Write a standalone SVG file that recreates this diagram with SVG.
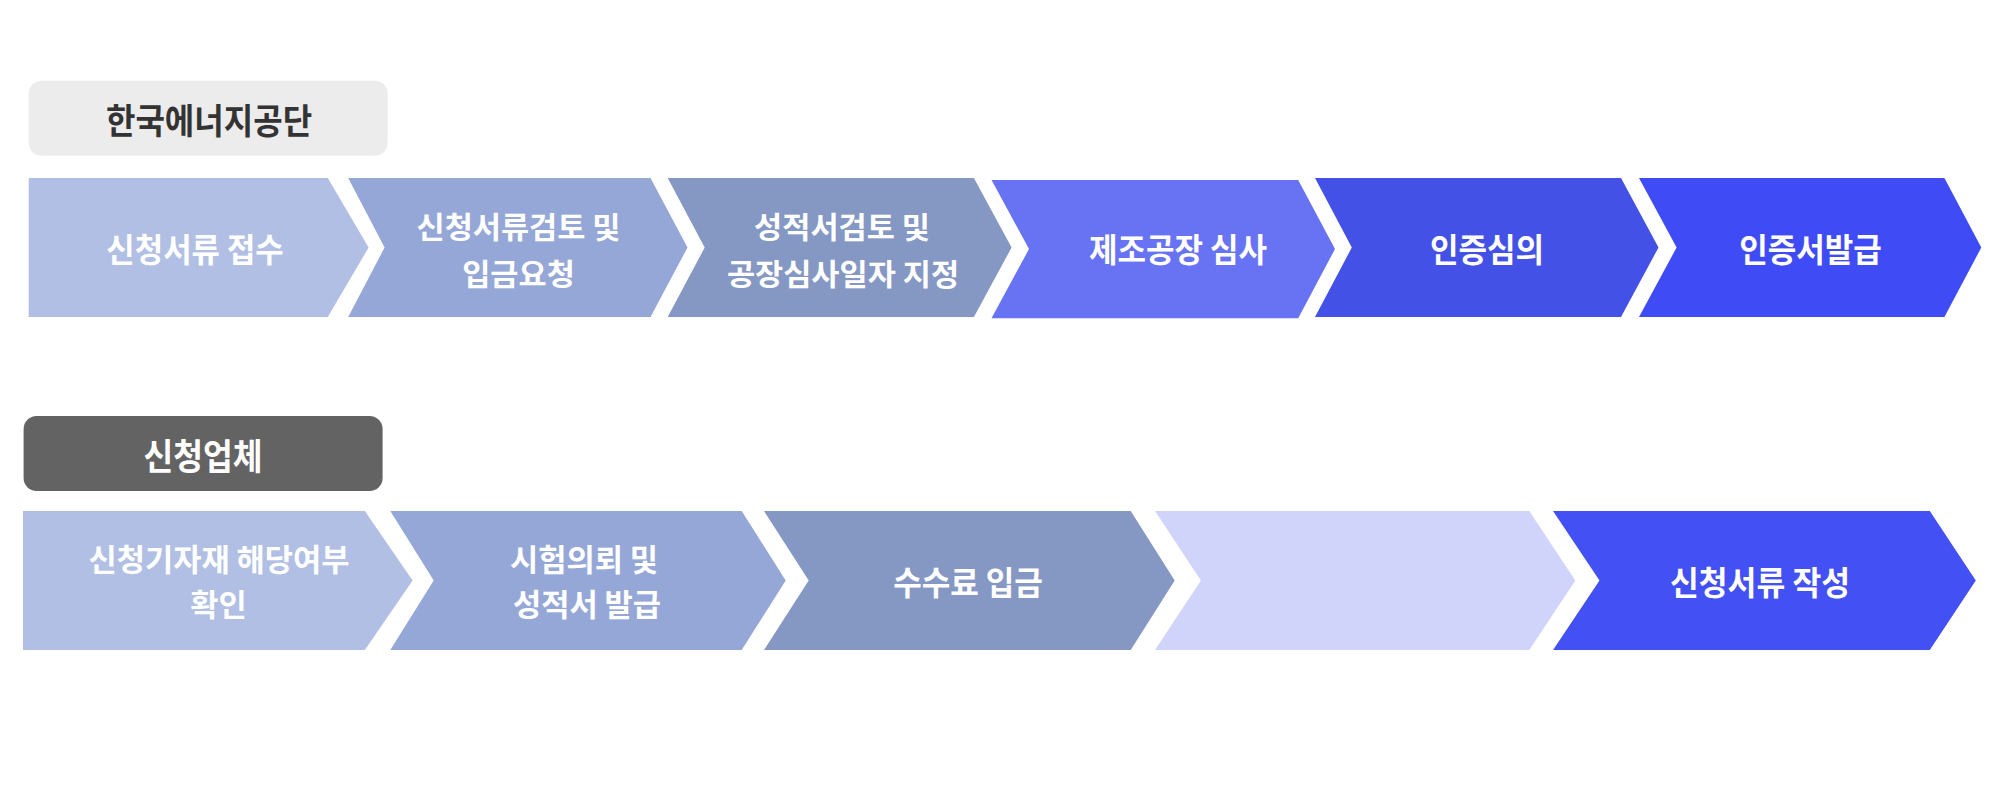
<svg xmlns="http://www.w3.org/2000/svg" width="2000" height="800" viewBox="0 0 2000 800">
<style>
text{font-family:"Noto Sans CJK KR","Noto Sans",sans-serif;font-weight:700;text-anchor:middle;dominant-baseline:central}
.w{fill:#ffffff}
.d{fill:#333333}
.c1{fill:#b0bfe3}.c2{fill:#95a7d6}.c3{fill:#8597c3}.c4{fill:#6873f4}.c5{fill:#4351e6}.c6{fill:#3f4cf5}.c7{fill:#d1d4fa}.c8{fill:#4350f3}
</style>
<rect width="2000" height="800" fill="#ffffff"/>
<g id="label-kea">
<rect x="28.7" y="80.7" width="359" height="75" rx="13" fill="#ececec"/>
<text class="d" font-size="35" transform="translate(209,119) scale(0.915,1)">한국에너지공단</text>
</g>
<g id="label-applicant">
<rect x="23.6" y="416" width="359" height="75" rx="13" fill="#636363"/>
<text class="w" font-size="36" transform="translate(203,454) scale(0.9,1)">신청업체</text>
</g>
<g id="top1">
<path class="c1" d="M28.7,178 L327.8,178 L368.6,247.5 L327.8,317 L28.7,317 Z"/>
<text class="w" font-size="33" transform="translate(195,248) scale(0.935,1)">신청서류 접수</text>
</g>
<g id="top2">
<path class="c2" d="M348.2,178 L650.5,178 L687.5,247.5 L650.5,317 L348.2,317 L384.6,247.5 Z"/>
<text class="w" font-size="30" transform="translate(518.5,225) scale(1.02,1)">신청서류검토 및</text>
<text class="w" font-size="30" transform="translate(518.5,272) scale(1.02,1)">입금요청</text>
</g>
<g id="top3">
<path class="c3" d="M667.7,178 L973.9,178 L1011.6,247.5 L973.9,317 L667.7,317 L704.7,247.5 Z"/>
<text class="w" font-size="30" transform="translate(842,225) scale(1.02,1)">성적서검토 및</text>
<text class="w" font-size="30" transform="translate(843,272) scale(1.02,1)">공장심사일자 지정</text>
</g>
<g id="top4">
<path class="c4" d="M991.5,180 L1298.2,180 L1335,249 L1298.2,318.3 L991.5,318.3 L1029,249 Z"/>
<text class="w" font-size="33" transform="translate(1178,248) scale(0.94,1)">제조공장 심사</text>
</g>
<g id="top5">
<path class="c5" d="M1315,178 L1621,178 L1658.5,247.5 L1621,317 L1315,317 L1351.8,247.5 Z"/>
<text class="w" font-size="33" transform="translate(1487,248) scale(0.94,1)">인증심의</text>
</g>
<g id="top6">
<path class="c6" d="M1639,178 L1944.4,178 L1981.3,247.5 L1944.4,317 L1639,317 L1676.6,247.5 Z"/>
<text class="w" font-size="33" transform="translate(1810.5,248) scale(0.94,1)">인증서발급</text>
</g>
<g id="bot1">
<path class="c1" d="M23,511 L364.8,511 L412.6,580.5 L364.8,650 L23,650 Z"/>
<text class="w" font-size="31" transform="translate(219,557.5) scale(0.99,1)">신청기자재 해당여부</text>
<text class="w" font-size="31" transform="translate(218.5,602.5) scale(0.99,1)">확인</text>
</g>
<g id="bot2">
<path class="c2" d="M390.3,511 L741.7,511 L785.7,580.5 L741.7,650 L390.3,650 L433.7,580.5 Z"/>
<text class="w" font-size="31" transform="translate(584,557.5) scale(0.99,1)">시험의뢰 및</text>
<text class="w" font-size="31" transform="translate(587,602.5) scale(0.99,1)">성적서 발급</text>
</g>
<g id="bot3">
<path class="c3" d="M764,511 L1130.7,511 L1174.7,580.5 L1130.7,650 L764,650 L808.7,580.5 Z"/>
<text class="w" font-size="33" transform="translate(968,581) scale(0.94,1)">수수료 입금</text>
</g>
<g id="bot4">
<path class="c7" d="M1155,511 L1529.3,511 L1575.3,580.5 L1529.3,650 L1155,650 L1200.9,580.5 Z"/>
</g>
<g id="bot5">
<path class="c8" d="M1553,511 L1929.8,511 L1975.8,580.5 L1929.8,650 L1553,650 L1599.5,580.5 Z"/>
<text class="w" font-size="33" transform="translate(1760,581) scale(0.95,1)">신청서류 작성</text>
</g>
<g id="connectors"></g>
</svg>
